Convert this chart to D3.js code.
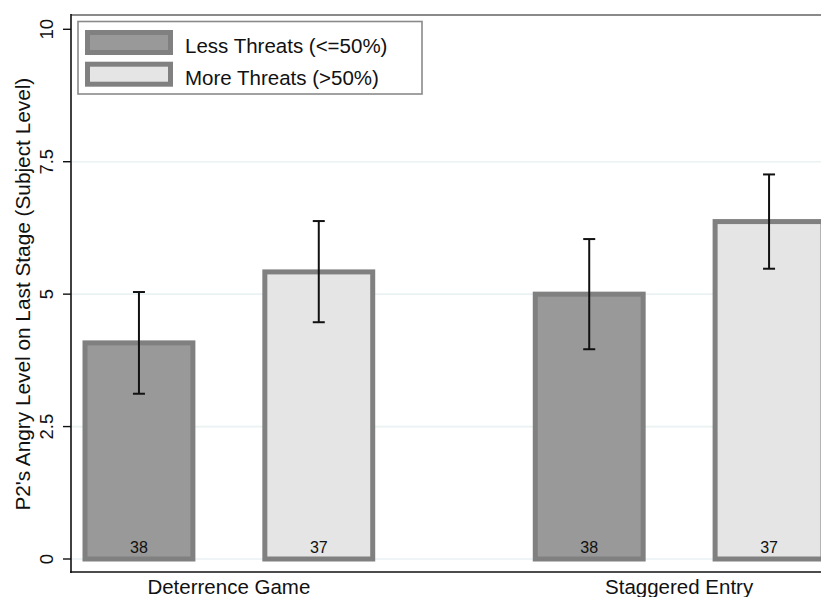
<!DOCTYPE html>
<html>
<head>
<meta charset="utf-8">
<script src="https://cdn.jsdelivr.net/npm/d3@7"></script>
<style>
  html, body { margin: 0; padding: 0; background: #fff; overflow: hidden; }
  svg { display: block; font-family: "Liberation Sans", Arial, Helvetica, sans-serif; }
</style>
</head>
<body>
<svg id="chart" width="821" height="597"></svg>
<script>
// Mean anger rating by game and threat frequency, with 95% CI and group sizes
const groups = ["Deterrence Game", "Staggered Entry"];
const series = ["Less Threats (<=50%)", "More Threats (>50%)"];
const means = [[4.08, 5.42], [5.00, 6.37]];
const ciLow = [[3.12, 4.47], [3.96, 5.48]];
const ciHigh = [[5.04, 6.38], [6.04, 7.26]];
const counts = [[38, 37], [38, 37]];
const yTicks = [0, 2.5, 5, 7.5, 10];
const yTickLabels = ["0", "2.5", "5", "7.5", "10"];

const fills = ["#999999", "#e5e5e5"];
const edge = "#808080";

const svg = d3.select("#chart");
const axisX = 71, axisY = 572, frameTop = 15, frameRight = 840;

const y = d3.scaleLinear().domain([0, 10]).range([559, 29.3]);
const xGroup = d3.scaleBand().domain(groups).range([85, 823]).paddingInner(0.361).paddingOuter(0);
const xSeries = d3.scaleBand().domain(series).range([0, xGroup.bandwidth()]).paddingInner(0.4);

// gridlines
svg.append("g").selectAll("line").data(yTicks.filter(d => d < 10)).join("line")
  .attr("x1", axisX).attr("x2", frameRight)
  .attr("y1", d => y(d)).attr("y2", d => y(d))
  .attr("stroke", "#eaf2f3").attr("stroke-width", 1.6);

// top frame
svg.append("line").attr("x1", axisX).attr("x2", frameRight)
  .attr("y1", frameTop).attr("y2", frameTop)
  .attr("stroke", "#8a8a8a").attr("stroke-width", 2);

// bars
const rows = [];
groups.forEach((g, gi) => series.forEach((s, si) => rows.push({
  g, s, si, mean: means[gi][si], lo: ciLow[gi][si], hi: ciHigh[gi][si], n: counts[gi][si]
})));

const barG = svg.append("g");
barG.selectAll("rect").data(rows).join("rect")
  .attr("x", d => xGroup(d.g) + xSeries(d.s))
  .attr("width", xSeries.bandwidth())
  .attr("y", d => y(d.mean))
  .attr("height", d => y(0) - y(d.mean))
  .attr("fill", d => fills[d.si])
  .attr("stroke", edge).attr("stroke-width", 5);

// count labels
barG.selectAll("text").data(rows).join("text")
  .attr("x", d => xGroup(d.g) + xSeries(d.s) + xSeries.bandwidth() / 2)
  .attr("y", 552.5)
  .attr("text-anchor", "middle")
  .attr("font-size", 16).attr("fill", "#111")
  .text(d => d.n);

// error bars
const eb = svg.append("g").attr("stroke", "#111").attr("stroke-width", 2);
rows.forEach(d => {
  const cx = xGroup(d.g) + xSeries(d.s) + xSeries.bandwidth() / 2;
  eb.append("line").attr("x1", cx).attr("x2", cx).attr("y1", y(d.lo)).attr("y2", y(d.hi));
  eb.append("line").attr("x1", cx - 6).attr("x2", cx + 6).attr("y1", y(d.lo)).attr("y2", y(d.lo));
  eb.append("line").attr("x1", cx - 6).attr("x2", cx + 6).attr("y1", y(d.hi)).attr("y2", y(d.hi));
});

// y axis
const yAxis = svg.append("g");
yAxis.append("line").attr("x1", axisX).attr("x2", axisX).attr("y1", frameTop - 1).attr("y2", axisY + 1)
  .attr("stroke", "#111").attr("stroke-width", 1.6);
yAxis.selectAll(".tick").data(yTicks).join("line")
  .attr("x1", axisX - 8).attr("x2", axisX)
  .attr("y1", d => y(d)).attr("y2", d => y(d))
  .attr("stroke", "#111").attr("stroke-width", 1.4);
yAxis.selectAll("text").data(yTicks).join("text")
  .attr("transform", d => `translate(52.5,${y(d)}) rotate(-90)`)
  .attr("text-anchor", "middle")
  .attr("font-size", 18.5).attr("fill", "#111")
  .text((d, i) => yTickLabels[i]);
svg.append("text")
  .attr("transform", `translate(30,${(y(0) + y(10)) / 2}) rotate(-90)`)
  .attr("text-anchor", "middle")
  .attr("font-size", 20.8).attr("fill", "#111")
  .text("P2's Angry Level on Last Stage (Subject Level)");

// x axis
svg.append("line").attr("x1", axisX - 1).attr("x2", frameRight).attr("y1", axisY).attr("y2", axisY)
  .attr("stroke", "#111").attr("stroke-width", 1.6);
svg.append("g").selectAll("text").data(groups).join("text")
  .attr("x", d => xGroup(d) + xGroup.bandwidth() / 2)
  .attr("y", 594)
  .attr("text-anchor", "middle")
  .attr("font-size", 20.5).attr("fill", "#111")
  .text(d => d);

// legend
const leg = svg.append("g");
leg.append("rect").attr("x", 78).attr("y", 21.5).attr("width", 344).attr("height", 72.5)
  .attr("fill", "#fff").attr("stroke", "#8a8a8a").attr("stroke-width", 1.6);
series.forEach((s, i) => {
  const ky = 30 + i * 31.7;
  leg.append("rect").attr("x", 87.5).attr("y", ky + 2.5).attr("width", 83).attr("height", 20)
    .attr("fill", fills[i]).attr("stroke", edge).attr("stroke-width", 5);
  leg.append("text").attr("x", 185).attr("y", 53.3 + i * 31.7)
    .attr("font-size", 20.5).attr("fill", "#111").text(s);
});
</script>
</body>
</html>
